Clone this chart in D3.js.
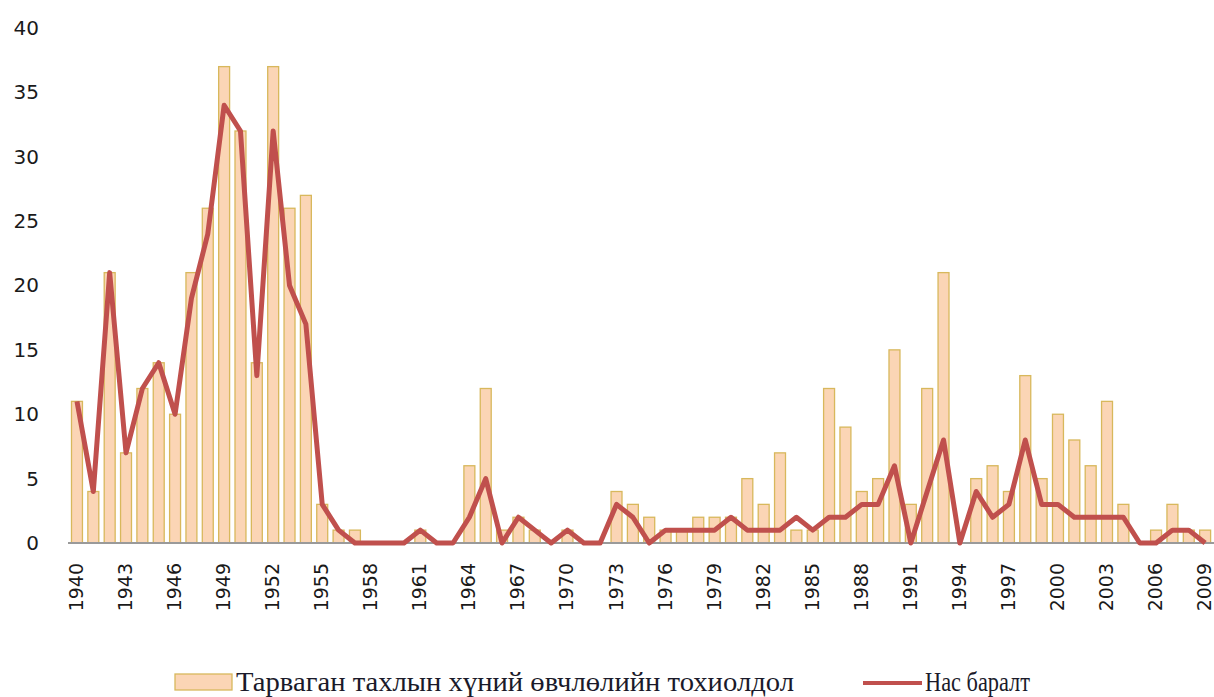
<!DOCTYPE html>
<html>
<head>
<meta charset="utf-8">
<script src="https://cdn.jsdelivr.net/npm/d3@7/dist/d3.min.js"></script>
<style>
  html, body { margin: 0; padding: 0; background: #fff; }
  svg { display: block; }
</style>
</head>
<body>
<svg id="chart" width="1214" height="697"></svg>
<script>
const years = d3.range(1940, 2010);
const cases = [
  11, 4, 21, 7, 12, 14, 10, 21, 26, 37,
  32, 14, 37, 26, 27, 3, 1, 1, 0, 0,
  0, 1, 0, 0, 6, 12, 1, 2, 1, 0,
  1, 0, 0, 4, 3, 2, 1, 1, 2, 2,
  2, 5, 3, 7, 1, 1, 12, 9, 4, 5,
  15, 3, 12, 21, 0, 5, 6, 4, 13, 5,
  10, 8, 6, 11, 3, 0, 1, 3, 1, 1
];
const deaths = [
  11, 4, 21, 7, 12, 14, 10, 19, 24, 34,
  32, 13, 32, 20, 17, 3, 1, 0, 0, 0,
  0, 1, 0, 0, 2, 5, 0, 2, 1, 0,
  1, 0, 0, 3, 2, 0, 1, 1, 1, 1,
  2, 1, 1, 1, 2, 1, 2, 2, 3, 3,
  6, 0, 4, 8, 0, 4, 2, 3, 8, 3,
  3, 2, 2, 2, 2, 0, 0, 1, 1, 0
];
const yTicks = [0, 5, 10, 15, 20, 25, 30, 35, 40];
const xTickYears = d3.range(1940, 2010, 3);
const seriesNames = ["Тарваган тахлын хүний өвчлөлийн тохиолдол", "Нас баралт"];

const svg = d3.select("#chart");
const x = d3.scaleBand().domain(years).range([68.8, 1213.3]).paddingInner(0.33).paddingOuter(0.165);
const y = d3.scaleLinear().domain([0, 40]).range([543, 28]);

// bars
svg.append("g").selectAll("rect").data(years).join("rect")
  .attr("x", d => x(d))
  .attr("y", (d, i) => y(cases[i]))
  .attr("width", x.bandwidth())
  .attr("height", (d, i) => y(0) - y(cases[i]))
  .attr("fill", "#FBD5B5")
  .attr("stroke", "#D8B85C")
  .attr("stroke-width", 1.3);

// baseline axis
const xAxis = d3.axisBottom(x).tickValues(xTickYears).tickSize(0).tickPadding(0);
const gx = svg.append("g").attr("transform", "translate(0,543)").call(xAxis);
gx.select(".domain").attr("stroke", "#9a9a9a").attr("stroke-width", 2).attr("d", "M68,0H1214");
gx.selectAll("text")
  .attr("font-family", "DejaVu Sans, Verdana, sans-serif")
  .attr("font-size", 19)
  .attr("fill", "#1a1a1a")
  .attr("text-anchor", "end")
  .attr("dy", null)
  .attr("y", 0)
  .attr("transform", "translate(6,20) rotate(-90)");

// y axis labels
const yAxis = d3.axisLeft(y).tickValues(yTicks).tickSize(0).tickPadding(0);
const gy = svg.append("g").attr("transform", "translate(39,0)").call(yAxis);
gy.select(".domain").remove();
gy.selectAll("text")
  .attr("font-family", "DejaVu Sans, Verdana, sans-serif")
  .attr("font-size", 20)
  .attr("fill", "#1a1a1a");

// line
const line = d3.line()
  .x((d, i) => x(years[i]) + x.bandwidth() / 2)
  .y(d => y(d));
svg.append("path").datum(deaths)
  .attr("d", line)
  .attr("fill", "none")
  .attr("stroke", "#C0504D")
  .attr("stroke-width", 5)
  .attr("stroke-linejoin", "round");

// legend
const lg = svg.append("g");
lg.append("rect").attr("x", 175).attr("y", 674).attr("width", 57).attr("height", 16)
  .attr("fill", "#FBD5B5").attr("stroke", "#D8B85C").attr("stroke-width", 1.3);
lg.append("text").attr("x", 236).attr("y", 691)
  .attr("font-family", "Liberation Serif, Times New Roman, serif")
  .attr("font-size", 27).attr("fill", "#1a1a2a")
  .attr("textLength", 558).attr("lengthAdjust", "spacingAndGlyphs")
  .text(seriesNames[0]);
lg.append("line").attr("x1", 863).attr("x2", 922).attr("y1", 683).attr("y2", 683)
  .attr("stroke", "#C0504D").attr("stroke-width", 4);
lg.append("text").attr("x", 925).attr("y", 691)
  .attr("font-family", "Liberation Serif, Times New Roman, serif")
  .attr("font-size", 27).attr("fill", "#1a1a2a")
  .attr("textLength", 105).attr("lengthAdjust", "spacingAndGlyphs")
  .text(seriesNames[1]);
</script>
</body>
</html>
